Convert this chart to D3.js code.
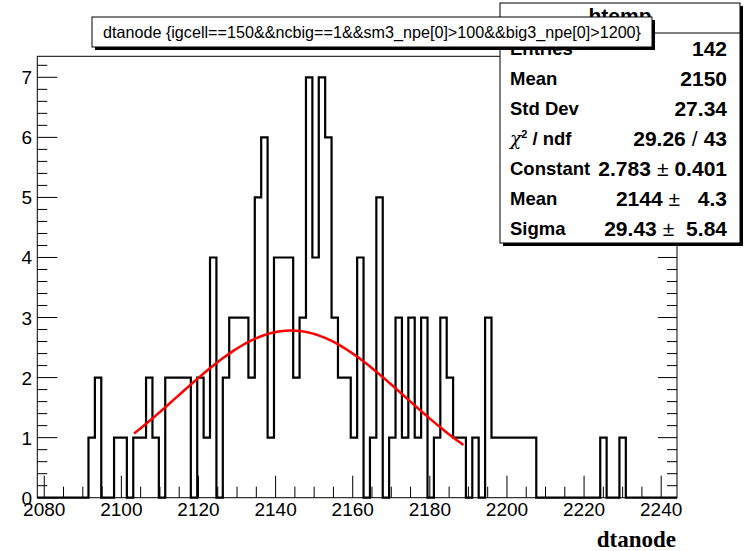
<!DOCTYPE html>
<html>
<head>
<meta charset="utf-8">
<script src="https://cdn.jsdelivr.net/npm/d3@7"></script>
<style>
  html, body { margin: 0; padding: 0; background: #fff; }
  svg { display: block; }
  text { font-family: "Liberation Sans", Arial, Helvetica, sans-serif; }
</style>
</head>
<body>
<svg id="c" width="744" height="551"></svg>
<script>
// dtanode histogram: 100 bins, counts per bin
const binCounts = [
  0,0,0,0,0,0,0,0,1,2,
  0,0,1,1,0,1,1,2,1,0,
  2,2,2,2,0,2,1,4,0,2,
  3,3,3,2,5,6,1,4,4,4,
  2,3,7,4,7,6,3,2,2,1,
  4,0,1,5,0,1,3,1,3,1,
  3,0,1,3,2,1,1,0,1,0,
  3,1,1,1,1,1,1,1,0,0,
  0,0,0,0,0,0,0,0,1,0,
  0,1,0,0,0,0,0,0,0,0
];
const histRange = [2078.2, 2244.1];
const yMax = 7.35;

const xTickLabels = [2080, 2100, 2120, 2140, 2160, 2180, 2200, 2220, 2240];
const xMinorStep = 5;
const yTickLabels = [0, 1, 2, 3, 4, 5, 6, 7];
const yMinorStep = 0.2;

// Gaussian fit parameters: constant, mean, sigma; and fit range
const fitParams = [2.783, 2144, 29.43];
const fitErrors = [0.401, 4.3, 5.84];
const fitRange = [2103.3, 2188.7];

const titleText = "dtanode {igcell==150&&ncbig==1&&sm3_npe[0]>100&&big3_npe[0]>1200}";
const statsTitle = "htemp";
const statNames = ["Entries", "Mean", "Std Dev", "CHI2", "Constant", "Mean", "Sigma"];
// each entry: [value, separator, second value] (second value padded to 5 characters)
const statValues = [
  ["142"], ["2150"], ["27.34"],
  ["29.26", "/", "43"],
  ["2.783", "\u00b1", "0.401"],
  ["2144", "\u00b1", "  4.3"],
  ["29.43", "\u00b1", " 5.84"]
];

const svg = d3.select("#c");

const frame = { left: 37.3, right: 677, top: 56.3, bottom: 497.7 };
const x = d3.scaleLinear().domain(histRange).range([frame.left, frame.right]);
const y = d3.scaleLinear().domain([0, yMax]).range([frame.bottom, frame.top]);

// frame
svg.append("rect")
  .attr("x", frame.left).attr("y", frame.top)
  .attr("width", frame.right - frame.left).attr("height", frame.bottom - frame.top)
  .attr("fill", "none").attr("stroke", "#000").attr("stroke-width", 1);

// histogram outline
const nBins = binCounts.length;
const bw = (histRange[1] - histRange[0]) / nBins;
const steps = binCounts.map((c, i) => ({ xv: histRange[0] + i * bw, c }));
steps.push({ xv: histRange[1], c: binCounts[nBins - 1] });
svg.append("path")
  .datum(steps)
  .attr("d", d3.line().x(d => x(d.xv)).y(d => y(d.c)).curve(d3.curveStepAfter))
  .attr("fill", "none").attr("stroke", "#000").attr("stroke-width", 2.2)
  .attr("stroke-linejoin", "miter");

// fitted gaussian
const gauss = v => fitParams[0] * Math.exp(-0.5 * Math.pow((v - fitParams[1]) / fitParams[2], 2));
const fitPts = d3.range(0, 101).map(k => {
  const v = fitRange[0] + (fitRange[1] - fitRange[0]) * k / 100;
  return [v, gauss(v)];
});
svg.append("path")
  .datum(fitPts)
  .attr("d", d3.line().x(d => x(d[0])).y(d => y(d[1])))
  .attr("fill", "none").attr("stroke", "#ff0000").attr("stroke-width", 2.5);

// x axis ticks and labels
const xMinor = d3.range(xTickLabels[0], histRange[1], xMinorStep);
const gx = svg.append("g");
gx.selectAll("line").data(xMinor).join("line")
  .attr("x1", d => x(d)).attr("x2", d => x(d))
  .attr("y1", frame.bottom)
  .attr("y2", d => frame.bottom - (xTickLabels.includes(d) ? 22 : 11))
  .attr("stroke", "#000").attr("stroke-width", 1);
gx.selectAll("text").data(xTickLabels).join("text")
  .attr("x", d => x(d)).attr("y", 516)
  .attr("text-anchor", "middle").attr("font-size", 19)
  .text(d => d);

// y axis ticks (left and right) and labels
const yMinor = d3.range(0, yMax + 1e-9, yMinorStep).map(v => +v.toFixed(2));
const isMajor = v => Math.abs(v - Math.round(v)) < 1e-6;
const gy = svg.append("g");
gy.selectAll("line.l").data(yMinor).join("line").attr("class", "l")
  .attr("x1", frame.left).attr("x2", d => frame.left + (isMajor(d) ? 20 : 10))
  .attr("y1", d => y(d)).attr("y2", d => y(d))
  .attr("stroke", "#000").attr("stroke-width", 1);
gy.selectAll("line.r").data(yMinor).join("line").attr("class", "r")
  .attr("x1", frame.right).attr("x2", d => frame.right - (isMajor(d) ? 19 : 10))
  .attr("y1", d => y(d)).attr("y2", d => y(d))
  .attr("stroke", "#000").attr("stroke-width", 1);
gy.selectAll("text").data(yTickLabels).join("text")
  .attr("x", 32).attr("y", d => y(d) + 7)
  .attr("text-anchor", "end").attr("font-size", 19)
  .text(d => d);

// x axis title
svg.append("text")
  .attr("x", 676).attr("y", 547)
  .attr("text-anchor", "end")
  .style("font-family", "'Liberation Serif', 'Times New Roman', serif")
  .attr("font-weight", "bold").attr("font-size", 23)
  .text("dtanode");

// statistics box
const sb = { x0: 500, x1: 740, y0: 3, y1: 243 };
const rowH = (sb.y1 - sb.y0) / 8;
svg.append("rect")
  .attr("x", sb.x0 + 3).attr("y", sb.y0 + 3)
  .attr("width", sb.x1 - sb.x0).attr("height", sb.y1 - sb.y0)
  .attr("fill", "#000");
svg.append("rect")
  .attr("x", sb.x0).attr("y", sb.y0)
  .attr("width", sb.x1 - sb.x0).attr("height", sb.y1 - sb.y0)
  .attr("fill", "#fff").attr("stroke", "#000").attr("stroke-width", 1);
svg.append("line")
  .attr("x1", sb.x0).attr("x2", sb.x1)
  .attr("y1", sb.y0 + rowH).attr("y2", sb.y0 + rowH)
  .attr("stroke", "#000").attr("stroke-width", 1);
svg.append("text")
  .attr("x", 620).attr("y", 23)
  .attr("text-anchor", "middle").attr("font-weight", "bold").attr("font-size", 21)
  .text(statsTitle);

const rows = svg.append("g");
statNames.forEach((name, i) => {
  const cy = sb.y0 + rowH * (i + 1.5);
  const t = rows.append("text")
    .attr("x", 510).attr("y", cy + 7)
    .attr("font-weight", "bold").attr("font-size", 18.5);
  if (name === "CHI2") {
    t.append("tspan").attr("font-weight", "normal")
      .style("font-family", "'DejaVu Serif', serif").attr("font-style", "italic").text("\u03c7");
    t.append("tspan").attr("font-size", 11).attr("dy", -7).text("2");
    t.append("tspan").attr("dy", 7).text(" / ndf");
  } else {
    t.text(name);
  }
  const parts = statValues[i];
  const v = rows.append("text")
    .attr("x", 727).attr("y", cy + 7.5)
    .attr("text-anchor", "end").attr("font-weight", "bold").attr("font-size", 21)
    .style("white-space", "pre").attr("xml:space", "preserve");
  v.append("tspan").text(parts[0]);
  if (parts.length > 1) {
    v.append("tspan").attr("dx", 6).attr("font-weight", "normal").text(parts[1]);
    v.append("tspan").attr("dx", 6).text(parts[2]);
  }
});

// title box
const tb = { x0: 92, x1: 652, y0: 17, y1: 47 };
svg.append("rect")
  .attr("x", tb.x0 + 3).attr("y", tb.y0 + 3)
  .attr("width", tb.x1 - tb.x0).attr("height", tb.y1 - tb.y0)
  .attr("fill", "#000");
svg.append("rect")
  .attr("x", tb.x0).attr("y", tb.y0)
  .attr("width", tb.x1 - tb.x0).attr("height", tb.y1 - tb.y0)
  .attr("fill", "#fff").attr("stroke", "#000").attr("stroke-width", 1);
svg.append("text")
  .attr("x", 103).attr("y", 38)
  .attr("font-size", 16.5)
  .attr("textLength", 538).attr("lengthAdjust", "spacingAndGlyphs")
  .text(titleText);
</script>
</body>
</html>
